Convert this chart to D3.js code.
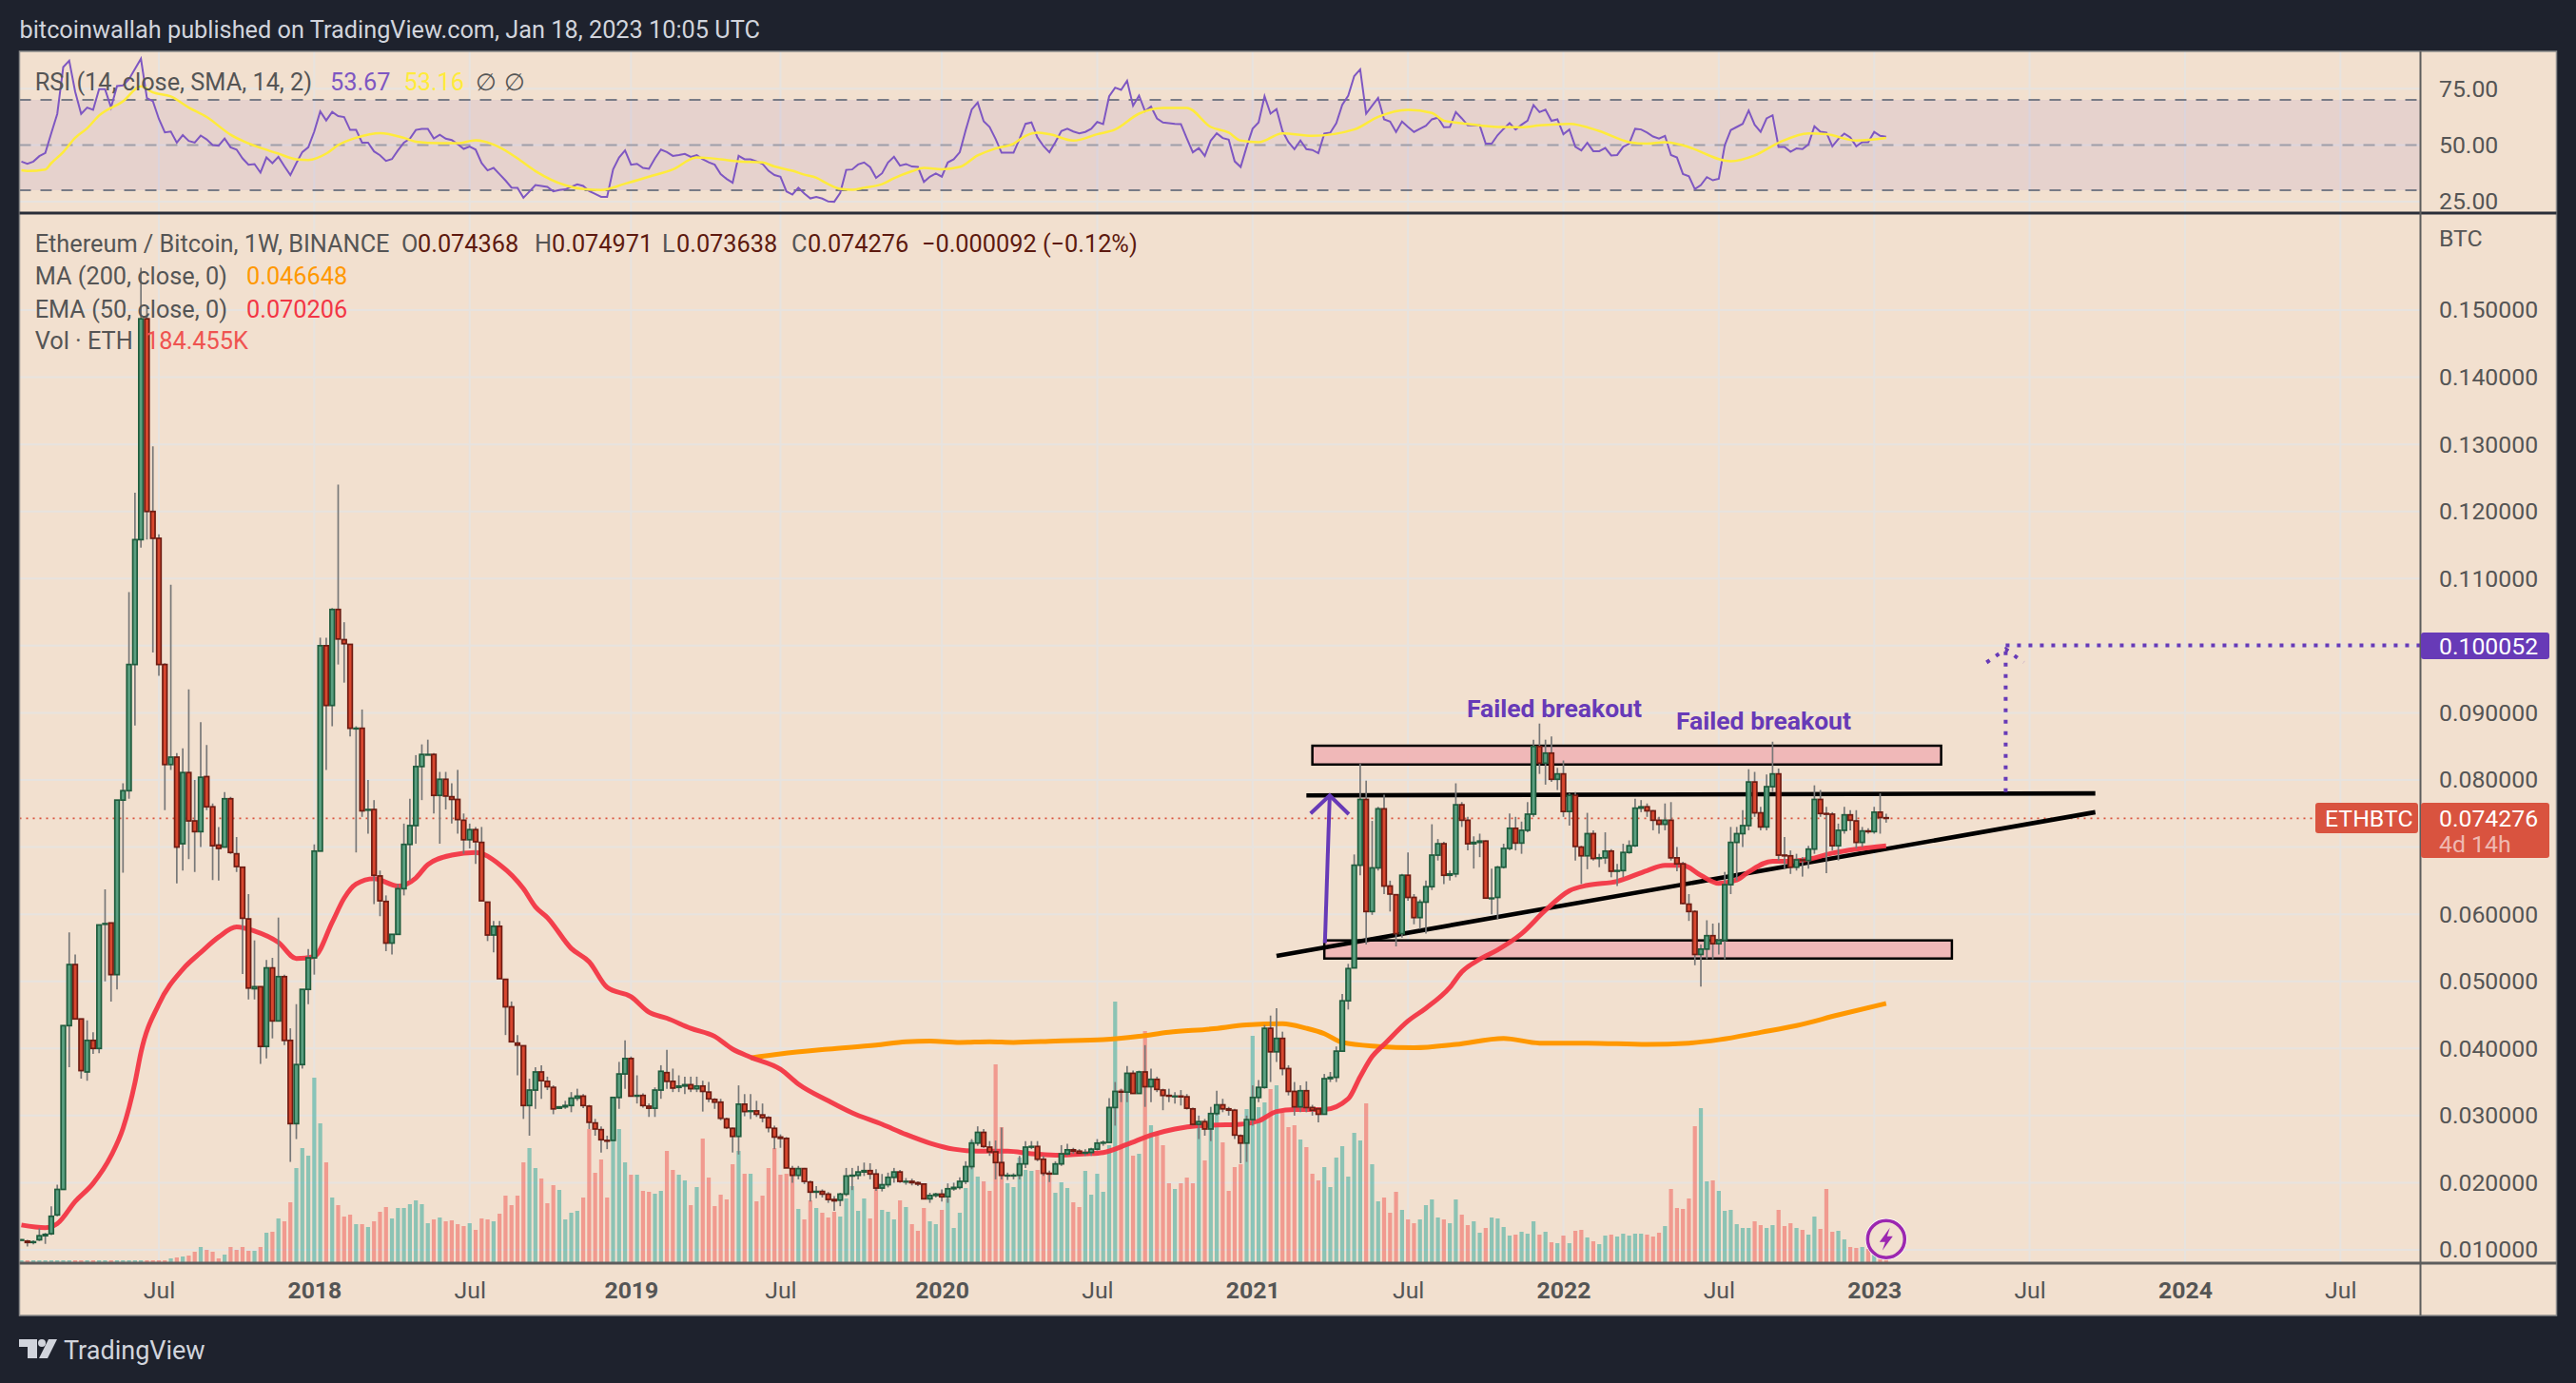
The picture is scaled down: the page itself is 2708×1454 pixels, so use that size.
<!DOCTYPE html>
<html><head><meta charset="utf-8">
<script src="https://cdn.jsdelivr.net/npm/d3@7/dist/d3.min.js"></script>
<style>html,body{margin:0;padding:0;background:#1e222d}svg{display:block}text{font-family:Roboto,sans-serif}</style>
</head><body><svg id="c" width="2708" height="1454"></svg>
<script>
// ---------- weekly ETH/BTC candles (bar index 0 = first week of the chart) ----------
const opens=[
.0115,.0113,.0111,.0115,.0121,.0124,.0152,.0190,.0434,.0525,
.0444,.0365,.0412,.0400,.0585,.0587,.0510,.0770,.0784,.0972,
.1158,.1487,.1200,.1160,.0972,.0823,.0834,.0705,.0811,.0739,
.0723,.0805,.0760,.0703,.0700,.0772,.0690,.0670,.0593,.0489,
.0492,.0403,.0520,.0441,.0507,.0412,.0288,.0376,.0488,.0535,
.0694,.1000,.0911,.1054,.1009,.1002,.0877,.0877,.0755,.0756,
.0657,.0619,.0557,.0570,.0638,.0704,.0732,.0820,.0838,.0838,
.0777,.0801,.0775,.0771,.0740,.0711,.0726,.0707,.0618,.0569,
.0582,.0503,.0462,.0408,.0404,.0315,.0338,.0365,.0351,.0342,
.0311,.0313,.0315,.0326,.0329,.0314,.0289,.0279,.0263,.0263,
.0327,.0362,.0385,.0329,.0330,.0314,.0311,.0338,.0364,.0351,
.0342,.0344,.0346,.0340,.0344,.0335,.0324,.0320,.0295,.0281,
.0269,.0317,.0307,.0307,.0301,.0297,.0281,.0268,.0266,.0221,
.0211,.0221,.0201,.0186,.0187,.0183,.0175,.0174,.0183,.0210,
.0211,.0216,.0218,.0213,.0192,.0197,.0208,.0216,.0202,.0202,
.0200,.0198,.0176,.0181,.0183,.0179,.0191,.0193,.0202,.0224,
.0259,.0275,.0253,.0246,.0230,.0211,.0211,.0211,.0228,.0253,
.0254,.0235,.0214,.0213,.0228,.0243,.0249,.0247,.0244,.0245,
.0250,.0259,.0260,.0312,.0336,.0335,.0363,.0333,.0365,.0343,
.0354,.0338,.0330,.0329,.0329,.0328,.0310,.0287,.0291,.0280,
.0303,.0316,.0310,.0308,.0270,.0259,.0294,.0327,.0342,.0430,
.0395,.0415,.0370,.0336,.0313,.0337,.0312,.0310,.0302,.0355,
.0357,.0396,.0471,.0520,.0673,.0771,.0604,.0669,.0757,.0642,
.0629,.0571,.0658,.0625,.0595,.0618,.0641,.0688,.0705,.0658,
.0660,.0763,.0740,.0705,.0707,.0709,.0624,.0625,.0670,.0698,
.0728,.0706,.0725,.0749,.0850,.0825,.0840,.0801,.0809,.0753,
.0777,.0700,.0687,.0720,.0683,.0684,.0694,.0664,.0665,.0692,
.0702,.0758,.0760,.0754,.0740,.0734,.0740,.0684,.0675,.0615,
.0604,.0540,.0548,.0568,.0556,.0561,.0644,.0707,.0720,.0732,
.0797,.0751,.0730,.0790,.0809,.0688,.0687,.0670,.0681,.0680,
.0697,.0771,.0750,.0749,.0702,.0725,.0748,.0739,.0707,.0724,
.0723,.0752,.07437];
const highs=[
.0116,.0115,.0114,.0132,.0125,.0165,.0197,.0434,.0573,.0540,
.0444,.0442,.0424,.0584,.0637,.0587,.0770,.0795,.1080,.1228,
.1563,.1505,.1297,.1166,.0974,.1091,.0840,.0847,.0935,.0800,
.0886,.0852,.0765,.0730,.0782,.0775,.0715,.0670,.0630,.0561,
.0492,.0532,.0535,.0595,.0510,.0430,.0466,.0488,.0548,.0704,
.1012,.1012,.1056,.1240,.1035,.1002,.0880,.0905,.0800,.0770,
.0665,.0628,.0570,.0645,.0735,.0772,.0837,.0853,.0860,.0840,
.0812,.0812,.0795,.0815,.0750,.0735,.0730,.0730,.0618,.0590,
.0590,.0503,.0470,.0420,.0404,.0355,.0372,.0375,.0358,.0345,
.0314,.0322,.0335,.0340,.0332,.0316,.0295,.0284,.0270,.0327,
.0380,.0412,.0388,.0360,.0333,.0318,.0342,.0375,.0398,.0370,
.0360,.0358,.0358,.0358,.0352,.0350,.0326,.0325,.0297,.0282,
.0345,.0332,.0332,.0322,.0318,.0299,.0285,.0272,.0268,.0225,
.0225,.0222,.0203,.0195,.0190,.0186,.0180,.0185,.0222,.0222,
.0225,.0230,.0229,.0220,.0213,.0215,.0222,.0219,.0207,.0206,
.0202,.0198,.0185,.0185,.0190,.0199,.0200,.0208,.0232,.0265,
.0284,.0280,.0262,.0263,.0282,.0215,.0214,.0240,.0262,.0262,
.0262,.0240,.0218,.0232,.0256,.0258,.0252,.0250,.0250,.0252,
.0265,.0263,.0326,.0350,.0340,.0374,.0367,.0367,.0405,.0370,
.0358,.0340,.0340,.0335,.0338,.0332,.0312,.0300,.0295,.0313,
.0337,.0325,.0313,.0310,.0272,.0300,.0345,.0353,.0435,.0449,
.0460,.0425,.0375,.0350,.0345,.0351,.0316,.0312,.0362,.0365,
.0403,.0481,.0526,.0689,.0824,.0799,.0739,.0760,.0778,.0650,
.0629,.0660,.0692,.0630,.0622,.0650,.0734,.0712,.0708,.0665,
.0795,.0767,.0745,.0716,.0720,.0710,.0668,.0672,.0705,.0750,
.0745,.0738,.0767,.0860,.0884,.0860,.0865,.0818,.0829,.0780,
.0782,.0702,.0751,.0725,.0690,.0722,.0697,.0675,.0705,.0710,
.0772,.0770,.0765,.0755,.0745,.0765,.0767,.0700,.0678,.0630,
.0606,.0555,.0591,.0586,.0587,.0663,.0730,.0730,.0755,.0816,
.0812,.0760,.0808,.0857,.0817,.0715,.0695,.0690,.0685,.0702,
.0792,.0785,.0760,.0752,.0735,.0760,.0755,.0755,.0730,.0728,
.0760,.0780,.07497];
const lows=[
.0114,.0105,.0108,.0113,.0109,.0122,.0150,.0190,.0372,.0444,
.0355,.0352,.0392,.0393,.0500,.0470,.0488,.0662,.0772,.0881,
.1146,.1158,.0990,.0955,.0755,.0815,.0646,.0665,.0682,.0663,
.0700,.0755,.0651,.0650,.0700,.0690,.0663,.0511,.0473,.0473,
.0377,.0385,.0415,.0441,.0405,.0231,.0265,.0370,.0466,.0510,
.0694,.0815,.0880,.0972,.0945,.0865,.0692,.0745,.0720,.0615,
.0597,.0545,.0540,.0570,.0628,.0650,.0705,.0770,.0838,.0750,
.0705,.0756,.0735,.0720,.0690,.0698,.0675,.0620,.0560,.0543,
.0504,.0420,.0410,.0360,.0295,.0270,.0310,.0325,.0338,.0302,
.0310,.0310,.0305,.0322,.0311,.0280,.0270,.0245,.0250,.0263,
.0310,.0340,.0329,.0318,.0312,.0298,.0298,.0325,.0340,.0335,
.0335,.0332,.0335,.0335,.0306,.0320,.0310,.0293,.0280,.0245,
.0242,.0299,.0295,.0298,.0290,.0275,.0250,.0252,.0222,.0200,
.0205,.0198,.0172,.0177,.0178,.0170,.0158,.0165,.0180,.0189,
.0205,.0210,.0205,.0188,.0187,.0193,.0200,.0200,.0197,.0196,
.0195,.0176,.0170,.0178,.0172,.0170,.0188,.0190,.0198,.0220,
.0255,.0252,.0240,.0205,.0205,.0204,.0205,.0205,.0222,.0250,
.0232,.0210,.0201,.0212,.0225,.0240,.0243,.0243,.0240,.0240,
.0248,.0255,.0260,.0285,.0320,.0320,.0333,.0333,.0313,.0320,
.0335,.0308,.0320,.0318,.0315,.0309,.0285,.0265,.0270,.0262,
.0300,.0305,.0300,.0265,.0229,.0231,.0285,.0320,.0340,.0350,
.0380,.0360,.0330,.0300,.0305,.0305,.0300,.0290,.0302,.0350,
.0350,.0395,.0458,.0520,.0658,.0555,.0599,.0665,.0630,.0604,
.0552,.0565,.0620,.0585,.0578,.0571,.0636,.0680,.0645,.0650,
.0655,.0730,.0695,.0668,.0685,.0624,.0600,.0593,.0668,.0695,
.0695,.0690,.0722,.0745,.0809,.0793,.0797,.0785,.0745,.0732,
.0680,.0645,.0667,.0680,.0670,.0675,.0655,.0642,.0655,.0690,
.0700,.0752,.0745,.0725,.0720,.0725,.0680,.0664,.0615,.0590,
.0524,.0492,.0533,.0533,.0540,.0533,.0630,.0650,.0700,.0725,
.0745,.0725,.0725,.0782,.0680,.0668,.0660,.0665,.0656,.0668,
.0690,.0745,.0661,.0695,.0680,.0720,.0725,.0698,.0700,.0720,
.0720,.0720,.07364];
const closes=[
.0115,.0111,.0112,.0121,.0123,.0150,.0190,.0434,.0525,.0444,
.0367,.0412,.0400,.0584,.0586,.0510,.0770,.0784,.0972,.1158,
.1487,.1200,.1160,.0972,.0823,.0834,.0700,.0811,.0739,.0723,
.0804,.0760,.0702,.0698,.0772,.0692,.0671,.0594,.0490,.0492,
.0403,.0520,.0441,.0507,.0412,.0288,.0376,.0488,.0535,.0694,
.1000,.0911,.1054,.1010,.1003,.0877,.0877,.0754,.0756,.0658,
.0620,.0557,.0570,.0638,.0704,.0732,.0820,.0838,.0838,.0777,
.0801,.0776,.0771,.0741,.0711,.0726,.0708,.0620,.0569,.0582,
.0504,.0462,.0410,.0405,.0315,.0338,.0365,.0352,.0343,.0310,
.0313,.0315,.0326,.0329,.0315,.0290,.0280,.0264,.0262,.0327,
.0362,.0385,.0329,.0330,.0315,.0311,.0338,.0366,.0351,.0341,
.0344,.0346,.0340,.0344,.0336,.0325,.0320,.0296,.0282,.0269,
.0317,.0306,.0307,.0302,.0297,.0282,.0268,.0266,.0222,.0211,
.0221,.0202,.0186,.0187,.0183,.0175,.0173,.0183,.0210,.0211,
.0216,.0218,.0213,.0192,.0197,.0208,.0216,.0202,.0202,.0200,
.0198,.0176,.0181,.0183,.0179,.0191,.0193,.0202,.0224,.0259,
.0275,.0254,.0246,.0230,.0211,.0211,.0211,.0228,.0253,.0254,
.0235,.0214,.0213,.0228,.0243,.0249,.0247,.0244,.0245,.0250,
.0259,.0260,.0312,.0336,.0335,.0363,.0333,.0365,.0343,.0354,
.0339,.0330,.0329,.0329,.0328,.0311,.0287,.0291,.0280,.0303,
.0316,.0310,.0308,.0271,.0259,.0294,.0327,.0342,.0430,.0395,
.0415,.0370,.0336,.0313,.0337,.0312,.0308,.0302,.0355,.0357,
.0396,.0471,.0519,.0673,.0771,.0604,.0669,.0757,.0642,.0630,
.0571,.0658,.0625,.0595,.0618,.0641,.0688,.0705,.0658,.0660,
.0763,.0740,.0705,.0707,.0709,.0624,.0624,.0670,.0698,.0728,
.0706,.0725,.0749,.0850,.0825,.0840,.0801,.0809,.0753,.0777,
.0701,.0687,.0720,.0683,.0684,.0694,.0664,.0665,.0692,.0702,
.0758,.0760,.0754,.0740,.0734,.0740,.0684,.0675,.0616,.0604,
.0540,.0548,.0568,.0556,.0561,.0644,.0707,.0720,.0732,.0797,
.0751,.0730,.0790,.0809,.0688,.0687,.0670,.0681,.0680,.0697,
.0771,.0750,.0749,.0702,.0725,.0748,.0740,.0707,.0724,.0723,
.0752,.0744,.07428];
// volume, in lots of 50K ETH
const volumes=[
2,2,2,2,2,2,2,2,2,2,2,2,2,2,2,2,2,2,2,2,2,2,2,2,2,
4,5,6,7,11,16,13,11,4,8,16,13,16,12,12,16,31,32,46,43,63,99,120,112,194,
146,105,68,60,48,50,40,40,37,43,
53,58,46,57,57,61,65,61,41,45,
47,43,44,40,38,41,34,46,45,43,
51,70,60,70,105,120,99,88,62,81,
76,45,52,54,68,140,94,108,68,128,
140,105,92,92,75,74,72,75,
117,97,92,86,60,79,130,89,59,71,
66,103,117,93,93,64,70,99,120,92,
93,91,56,45,65,57,52,47,53,48,
67,80,54,67,46,77,55,53,45,65,
58,40,33,57,43,40,55,67,36,52,
78,128,90,85,75,208,142,83,79,110,
97,96,97,102,92,73,84,78,63,58,
96,71,93,74,123,274,182,178,112,114,
243,144,135,123,83,77,83,89,83,147,
107,143,160,126,75,100,103,161,238,163,
168,182,186,157,142,144,129,121,93,86,
100,79,110,122,90,136,128,167,103,64,
68,52,74,55,
45,41,45,60,66,47,45,41,66,50,
39,43,31,36,47,46,37,28,29,32,
30,43,29,32,21,20,28,20,33,34,
26,22,19,28,29,27,30,28,30,30,
29,27,31,38,77,57,56,67,143,162,
85,86,75,54,55,40,36,36,43,39,
36,39,55,38,41,36,34,29,48,35,
77,32,33,24,16,15,16,14,9,3,3.7];
const rsi=[
42.7,41.7,42.7,45.1,46.5,55.3,63.8,84.5,87.3,73.6,
63.8,66.6,65.6,74.7,74.7,66.6,76.1,76.4,79.2,83.7,
88.2,70.8,69.4,61.6,55.6,56,51.1,54.4,51.8,51.1,
54.2,52.5,50,49.7,52.9,49,48,44.1,41.3,41.6,
37.8,44.5,42,44.8,40.6,36.7,42,46.9,49,56,
64.9,60.9,64.7,62.8,62.4,56.7,56.7,51.1,51.1,47.2,
45.5,43,43.8,47.6,51.1,52.8,56.7,57.2,57.2,52.9,
54.6,52.8,52.2,50.4,48.3,49.3,48,42,38.8,39.9,
37.1,34.3,31.2,31.1,26.7,29.4,32.3,31.9,31.5,29.5,
30.1,30.4,31.5,32.6,31.9,29.6,28.4,27.1,27.1,39.2,
44.5,47.6,41.3,41.7,39.9,39.5,44.1,48,46.9,45.2,
45.6,46.1,44.8,45.5,43.7,42.4,41.3,37.1,35,33.3,
45.2,43.7,43.7,42.8,41.7,38.6,36.7,36,29.5,28.1,
31.1,28.5,26.4,27,26.3,25,24.9,28.8,39,39.2,
41.4,42.3,40.2,35.5,37.5,42.3,44.8,40.9,41.6,40.5,
40.3,33.7,36,37.4,36,42.3,43.7,46.8,56.6,65.7,
68.8,60.5,58,52.7,46.6,46.6,46.6,52.7,59.4,60,
53.4,49.6,46.8,51.3,56.2,57.2,56,55.2,55.8,57.2,
60.2,59.3,71.6,75.4,74.4,78.4,67.4,71.9,65,67,
61.8,60,59.7,59.4,59.3,52.9,46.8,48.7,45.2,52,
55.2,53.1,52.4,42.8,40.3,49.2,57.2,60,71.6,63.9,
65.9,56.2,51.3,48.2,52,48.2,47.8,46.4,55.1,55.5,
59.7,67.8,71.9,80.5,83.5,63.9,67.4,70.9,61.4,60.4,
55.8,60.4,58,55.8,57.2,58.6,61.4,62.1,57.9,58,
64.6,61.8,58.7,58.7,58.7,50.6,50.6,54.4,57.2,59.7,
56.9,59,60.8,67.7,64.6,65.7,60.7,61.4,54.8,56.9,
49.2,47.6,51,47.3,47.3,48.7,45.4,45.6,49.2,50.6,
57.2,56.9,55.5,53.8,52.9,54.1,45.6,44.5,37.2,36.2,
30.5,32.3,35.8,34.4,35.1,49.9,56.6,58,59.4,65.3,
59,55.8,61.8,63.2,49.2,49.2,47,48.5,48.2,50.3,
58.3,55.9,55.5,49.4,52.7,55.1,53.4,49.4,51.3,51.3,
55.8,54.1,53.67];
// moving averages: [bar index], [value] pairs
const rsiMaIdx=[0,1,4,5,7,9,11,13,17,20,22,25,28,31,35,39,43,46,48,51,53,56,60,64,66,70,73,76,80,83,86,91,94,97,101,105,109,113,117,120,124,126,129,131,133,135,137,139,141,144,146,149,151,154,157,160,163,166,168,170,172,176,180,183,187,191,195,199,202,204,207,211,216,223,227,232,236,238,242,247,251,254,259,264,269,272,275,278,286,290,294,299,302,307,312];
const rsiMaVal=[38.8,38.5,39.2,42,46.9,53.2,57.4,63.1,69.4,76,73.3,71.5,66.6,62.4,54.6,49.7,46.2,43.7,43.4,46.2,50,53.2,55.3,53.2,51.5,50.8,50.8,52.1,49,44.1,38.5,32.2,30.5,30.1,32.9,36,39.2,44.5,43.7,42.7,42.3,40.5,38.6,36.9,35.5,32.7,30.6,30.2,31.1,32.7,35.3,38.4,39.9,39.3,40.3,45.4,48.5,50.6,54.1,55.5,54.8,52,54.8,56.9,63.9,66.4,66.4,58,55.5,52,51.3,55.2,54.1,56.9,62.5,65.6,64.2,60.8,59.4,58,57.9,58.7,59.4,56.2,51.3,50.6,51.3,49.9,42.8,45.4,51,55.2,54.8,52,53.16];
const emaIdx=[0,4,6,9,12,15,17,19,20,23,27,30,33,36,39,43,46,49,52,54,56,59,63,66,68,72,76,80,84,86,88,92,95,98,102,105,108,112,116,119,122,127,130,135,139,144,148,152,156,160,165,169,173,178,181,185,189,193,197,200,204,207,210,213,218,222,224,226,228,232,235,239,241,244,247,251,255,259,262,267,272,275,278,281,284,287,289,293,296,299,303,307,312];
const emaVal=[.0137,.0133,.0139,.0172,.0199,.0240,.0281,.0349,.0394,.0466,.0518,.0543,.0566,.0581,.0575,.0558,.0534,.0537,.0588,.0624,.0645,.0653,.0642,.0654,.0674,.0688,.0692,.0674,.0638,.0611,.0595,.0549,.0529,.0491,.0477,.0454,.0445,.0430,.0418,.0399,.0387,.0369,.0347,.0322,.0304,.0287,.0272,.0259,.0250,.0247,.0247,.0243,.0241,.0243,.0245,.0257,.0271,.0280,.0285,.0286,.0287,.0292,.0306,.0309,.0309,.0325,.0358,.0388,.0406,.0441,.0460,.0491,.0514,.0533,.0547,.0571,.0606,.0635,.0643,.0649,.0665,.0673,.0673,.0658,.0646,.0651,.0663,.0679,.0679,.0682,.0691,.0697,.0702];
const maIdx=[122,127,135,143,148,152,157,162,166,173,181,187,192,199,205,211,215,218,221,227,233,240,248,254,262,272,279,284,291,297,304,312];
const maVal=[.0386,.0392,.0399,.0405,.0410,.0411,.0409,.0410,.0409,.0411,.0413,.0418,.0424,.0429,.0435,.0437,.0430,.0422,.0409,.0403,.0401,.0406,.0415,.0408,.0408,.0406,.0408,.0413,.0424,.0434,.0450,.0467];
// ---------- axis ticks ----------
const priceTicks=[.01,.02,.03,.04,.05,.06,.07,.08,.09,.10,.11,.12,.13,.14,.15];
const priceLabels=[.01,.02,.03,.04,.05,.06,.08,.09,.11,.12,.13,.14,.15];
const rsiTicks=[25,50,75];
const rsiBands=[30,50,70];
const timeTickIdx=[23,49,75,102,127,154,180,206,232,258,284,310,336,362,388];
const timeTickLabels=["Jul","2018","Jul","2019","Jul","2020","Jul","2021","Jul","2022","Jul","2023","Jul","2024","Jul"];
// ---------- analyst drawings, in chart units (bar index, price) ----------
const zoneTop=[216,321.2,.0851,.0823], zoneBottom=[218,323,.0561,.0534];
const resistance=[[215,.0777],[347,.0780]], support=[[210,.0538],[347,.0752]];
const riseArrow=[[218.1,.0557],[218.9,.0777]], riseHead=[[215.7,.0750],[218.9,.0777],[222.1,.0749]];
const targetPrice=.100052, lastPrice=.074276;
const targetStem=[[332,.0782],[332,targetPrice-.0005]], targetRun=[[332,targetPrice],[404,targetPrice]], targetHead=[[328.8,.0975],[332,.0995],[335,.0975]];
const notes=[["Failed breakout",1542,.0907],["Failed breakout",1762,.0889]];

const BG="#f2e0cf",DARK="#1e222d",GRID="#e7e3df",TXT="#555555",PURPLE="#673ab7";
const L=20.5,R=2544.5,RR=2687.5,T=54,B=1383,SEP=224,AX=1328,FS=25.3;
const x=d3.scaleLinear().domain([0,388]).range([22.5,2460.3]);
const y=d3.scaleLinear().domain([.01,.15]).range([1314,326]);
const yR=d3.scaleLinear().domain([30,70]).range([200,105]);
const yV=d3.scaleLinear().domain([0,274]).range([1327,1053]);
const svg=d3.select("#c");
const defs=svg.append("defs");
defs.append("clipPath").attr("id","main").append("rect").attr("x",L).attr("y",SEP).attr("width",R-L).attr("height",AX-SEP);
defs.append("clipPath").attr("id","rsi").append("rect").attr("x",L).attr("y",T).attr("width",R-L).attr("height",SEP-T);
svg.append("rect").attr("width",2708).attr("height",1454).attr("fill",DARK);
svg.append("rect").attr("x",L).attr("y",T).attr("width",RR-L).attr("height",B-T).attr("fill",BG);
const txt=(g,s,tx,ty,o={})=>g.append("text").attr("x",tx).attr("y",ty).attr("dominant-baseline","central")
  .attr("font-size",o.size||FS).attr("fill",o.fill||TXT).attr("font-weight",o.w||400).attr("text-anchor",o.a||"start").text(s);
txt(svg,"bitcoinwallah published on TradingView.com, Jan 18, 2023 10:05 UTC",20.5,31,{fill:"#d1d4dc"});

// grid
const grid=svg.append("g").attr("stroke",GRID).attr("stroke-width",2);
grid.selectAll(".v").data(timeTickIdx).join("line").attr("x1",d=>x(d)).attr("x2",d=>x(d)).attr("y1",T).attr("y2",AX);
grid.selectAll(".h").data(priceTicks).join("line").attr("x1",L).attr("x2",R).attr("y1",d=>y(d)).attr("y2",d=>y(d));
grid.selectAll(".r").data(rsiTicks).join("line").attr("x1",L).attr("x2",R).attr("y1",d=>yR(d)).attr("y2",d=>yR(d));

// RSI pane
const rp=svg.append("g").attr("clip-path","url(#rsi)");
rp.append("rect").attr("x",L).attr("width",R-L).attr("y",yR(70)).attr("height",yR(30)-yR(70)).attr("fill","rgba(126,87,194,.1)");
rp.selectAll(".b").data(rsiBands).join("line").attr("x1",L).attr("x2",R).attr("y1",d=>yR(d)).attr("y2",d=>yR(d))
  .attr("stroke","#787b86").attr("stroke-width",2).attr("stroke-dasharray","12 10").attr("opacity",d=>d===50?.6:1);
const lineI=(yy)=>d3.line().x(d=>x(d[0])).y(d=>yy(d[1]));
rp.append("path").attr("d",lineI(yR)(rsi.map((v,i)=>[i,v]))).attr("fill","none").attr("stroke","#7e57c2").attr("stroke-width",2);
rp.append("path").attr("d",lineI(yR).curve(d3.curveMonotoneX)(rsiMaIdx.map((d,i)=>[d,rsiMaVal[i]]))).attr("fill","none").attr("stroke","#ffeb3b").attr("stroke-width",2.5);

// main pane
const mp=svg.append("g").attr("clip-path","url(#main)");
mp.append("line").attr("x1",L).attr("x2",2434).attr("y1",y(lastPrice)).attr("y2",y(lastPrice)).attr("stroke","#d9533f").attr("stroke-width",1.6).attr("stroke-dasharray","2 5");
mp.selectAll(".vol").data(volumes).join("rect").attr("x",(d,i)=>x(i)-2.1).attr("width",4.2).attr("y",d=>yV(d)).attr("height",d=>yV(0)-yV(d))
  .attr("fill",(d,i)=>closes[i]>=opens[i]?"rgba(38,166,154,.5)":"rgba(239,83,80,.5)");
// zones & trendlines
[zoneTop,zoneBottom].forEach(z=>mp.append("rect").attr("x",x(z[0])).attr("width",x(z[1])-x(z[0])).attr("y",y(z[2])).attr("height",y(z[3])-y(z[2]))
  .attr("fill","#f0b8b8").attr("stroke","#000").attr("stroke-width",2.5));
[resistance,support].forEach(l=>mp.append("path").attr("d",lineI(y)(l)).attr("stroke","#000").attr("stroke-width",4.6).attr("fill","none"));
// averages
mp.append("path").attr("d",lineI(y).curve(d3.curveMonotoneX)(maIdx.map((d,i)=>[d,maVal[i]]))).attr("fill","none").attr("stroke","#ff9800").attr("stroke-width",5);
mp.append("path").attr("d",lineI(y).curve(d3.curveMonotoneX)(emaIdx.map((d,i)=>[d,emaVal[i]]))).attr("fill","none").attr("stroke","#f23645").attr("stroke-opacity",.95).attr("stroke-width",5);
// candles
const cg=mp.append("g");
cg.selectAll(".w").data(highs).join("line").attr("x1",(d,i)=>x(i)).attr("x2",(d,i)=>x(i)).attr("y1",d=>y(d)).attr("y2",(d,i)=>y(lows[i])).attr("stroke","#787878").attr("stroke-width",1.7);
cg.selectAll(".b").data(opens).join("rect").attr("x",(d,i)=>x(i)-2.3).attr("width",4.6)
  .attr("y",(d,i)=>y(Math.max(d,closes[i]))).attr("height",(d,i)=>Math.max(.6,Math.abs(y(d)-y(closes[i]))))
  .attr("fill",(d,i)=>closes[i]>=d?"#5a9f80":"#d8472f").attr("stroke",(d,i)=>closes[i]>=d?"#1f5c3d":"#6e1c12").attr("stroke-width",1.7);
// purple annotations
[riseArrow,riseHead].forEach(l=>mp.append("path").attr("d",lineI(y)(l)).attr("stroke",PURPLE).attr("stroke-width",4).attr("fill","none"));
[targetStem,targetRun,targetHead].forEach(l=>mp.append("path").attr("d",lineI(y)(l)).attr("stroke",PURPLE).attr("stroke-width",4).attr("stroke-dasharray","4 8").attr("fill","none"));
notes.forEach(n=>txt(mp,n[0],n[1],y(n[2]),{fill:PURPLE,w:700,size:26.5}));
// lightning
const bolt=svg.append("g").attr("transform",`translate(${x(312)},1302.7)`);
bolt.append("circle").attr("r",22).attr("fill","#fff");
bolt.append("circle").attr("r",19.5).attr("fill",BG).attr("stroke","#9c27b0").attr("stroke-width",3.5);
bolt.append("path").attr("d","M4-12L-7 3H-1L-4 12L7-3H1Z").attr("fill","#9c27b0");

// frame
const fr=svg.append("g").attr("stroke","#5d5d5d");
fr.append("rect").attr("x",L).attr("y",T).attr("width",RR-L).attr("height",B-T).attr("fill","none").attr("stroke","#8a8a8a").attr("stroke-width",1.5);
fr.append("line").attr("x1",L).attr("x2",RR).attr("y1",SEP).attr("y2",SEP).attr("stroke","#2a2e39").attr("stroke-width",3);
fr.append("line").attr("x1",L).attr("x2",RR).attr("y1",AX).attr("y2",AX).attr("stroke-width",3);
fr.append("line").attr("x1",R).attr("x2",R).attr("y1",T).attr("y2",B).attr("stroke-width",2);

// axes
const styleAxis=g=>{g.select(".domain").remove();g.selectAll("line").remove();g.selectAll("text").attr("fill",TXT).attr("font-family","Roboto,sans-serif").attr("font-size",24.8);};
svg.append("g").attr("transform","translate(2564,0)").call(d3.axisRight(y).tickValues(priceLabels).tickSize(0).tickPadding(0).tickFormat(d3.format(".6f"))).call(styleAxis);
svg.append("g").attr("transform","translate(2564,0)").call(d3.axisRight(yR).tickValues(rsiTicks).tickSize(0).tickPadding(0).tickFormat(d3.format(".2f"))).call(styleAxis);
const xa=svg.append("g").attr("transform","translate(0,1347)").call(d3.axisBottom(x).tickValues(timeTickIdx).tickSize(0).tickPadding(0).tickFormat((d,i)=>timeTickLabels[i])).call(styleAxis);
xa.selectAll("text").attr("font-weight",(d,i)=>timeTickLabels[i]==="Jul"?400:700);
txt(svg,"BTC",2564,250,{size:24.8});
// labels
const lab=(x0,y0,w,h,fill)=>svg.append("rect").attr("x",x0).attr("y",y0).attr("width",w).attr("height",h).attr("rx",3).attr("fill",fill);
lab(2434,844,108,32,"#d9533f"); txt(svg,"ETHBTC",2444,860,{fill:"#fff",size:24.8});
lab(2545,844,135,58,"#d9533f"); txt(svg,"0.074276",2564,860,{fill:"#fff",size:24.8}); txt(svg,"4d 14h",2564,887,{fill:"rgba(255,255,255,.6)",size:24.8});
lab(2545,665,135,28,PURPLE); txt(svg,d3.format(".6f")(targetPrice),2564,679,{fill:"#fff",size:24.8});
// legends
const ohlc="#5d1a10";
txt(svg,"RSI (14, close, SMA, 14, 2)",36.7,86); txt(svg,"53.67",347,86,{fill:"#7e57c2"}); txt(svg,"53.16",424.5,86,{fill:"#ffeb3b"});
txt(svg,"∅",500,86); txt(svg,"∅",530,86);
txt(svg,"Ethereum / Bitcoin, 1W, BINANCE",36.7,256.7);
[["O",422,"0.074368",439],["H",562,"0.074971",580],["L",696,"0.073638",711],["C",832,"0.074276",849]].forEach(a=>{txt(svg,a[0],a[1],256.7);txt(svg,a[2],a[3],256.7,{fill:ohlc});});
txt(svg,"−0.000092 (−0.12%)",969,256.7,{fill:ohlc});
txt(svg,"MA (200, close, 0)",36.7,290.7); txt(svg,"0.046648",259,290.7,{fill:"#ff9800"});
txt(svg,"EMA (50, close, 0)",36.7,325); txt(svg,"0.070206",259,325,{fill:"#f23645"});
txt(svg,"Vol · ETH",36.7,358.7); txt(svg,"184.455K",153,358.7,{fill:"#ef5350"});
// brand
svg.append("path").attr("d","M20 1408H39V1428H29V1416H20ZM51 1408H60L50 1428H41Z").attr("fill","#d1d4dc");
svg.append("circle").attr("cx",44).attr("cy",1412).attr("r",4).attr("fill","#d1d4dc");
txt(svg,"TradingView",67,1420,{fill:"#d1d4dc",size:27,w:400});
</script></body></html>
